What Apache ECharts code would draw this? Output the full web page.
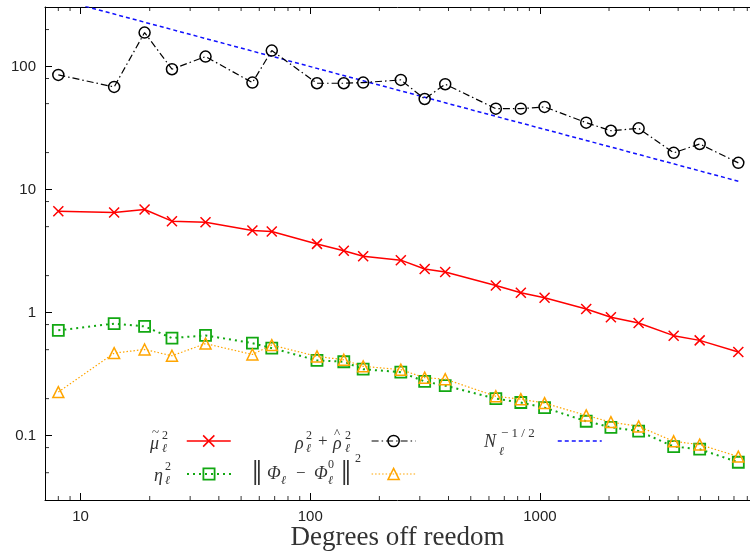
<!DOCTYPE html>
<html>
  <head>
    <meta http-equiv="Content-Type" content="text/html; charset=utf-8" />
    <title>Degrees of freedom</title>
    <script src="https://cdn.jsdelivr.net/npm/echarts@6/dist/echarts.min.js"></script>
    <style>
      html, body { margin: 0; padding: 0; background: #fff; }
      #chart { width: 750px; height: 552px; }
    </style>
  </head>
  <body>
    <div id="chart"></div>
    <script>
      // degrees of freedom (x) and the five curves
      var dofs = [8, 14, 19, 25, 35, 56, 68, 107, 140, 170, 248, 315, 387, 643, 826, 1048, 1591, 2038, 2691, 3824, 4963, 7311];
      var muVals = [6.68, 6.52, 6.90, 5.54, 5.43, 4.65, 4.57, 3.62, 3.18, 2.87, 2.67, 2.26, 2.14, 1.66, 1.45, 1.32, 1.07, 0.916, 0.823, 0.650, 0.595, 0.478];
      var rhoVals = [85.6, 68.3, 189, 95.2, 120.6, 74.1, 135, 73.2, 73.2, 74.1, 77.9, 54.5, 71.9, 45.5, 45.5, 47.0, 35.0, 30.1, 31.5, 19.9, 23.5, 16.5];
      var etaVals = [0.718, 0.814, 0.773, 0.621, 0.653, 0.565, 0.515, 0.409, 0.399, 0.347, 0.328, 0.276, 0.255, 0.200, 0.186, 0.169, 0.131, 0.117, 0.109, 0.0816, 0.0776, 0.0608];
      var phiVals = [0.226, 0.469, 0.502, 0.446, 0.560, 0.457, 0.545, 0.441, 0.414, 0.366, 0.344, 0.296, 0.288, 0.209, 0.198, 0.184, 0.146, 0.129, 0.119, 0.090, 0.0846, 0.0676];
      var refVals = [353.6, 267.3, 229.4, 200, 169, 133.6, 121.3, 96.7, 84.5, 76.7, 63.5, 56.3, 50.8, 39.4, 34.8, 30.9, 25.1, 22.2, 19.3, 16.2, 14.2, 11.7];

      // minor tick positions (gnuplot style)
      var xMinorTicks = [8, 9, 20, 30, 40, 50, 60, 70, 80, 90, 200, 300, 400, 500, 600, 700, 800, 900, 2000, 3000, 4000, 5000, 6000, 7000, 8000];
      var yMinorTicks = [0.05, 0.08, 0.2, 0.5, 0.8, 2, 5, 8, 20, 50, 80, 200];

      var X_MIN = 7, X_MAX = 8220, Y_MIN = 0.03, Y_MAX = 305;

      var SERIF = '"Liberation Serif", "DejaVu Serif", serif';
      var SANS = '"Liberation Sans", Arial, sans-serif';
      var INK = '#333';

      function pairs(xs, ys) {
        var out = [];
        for (var i = 0; i < xs.length; i++) out.push([xs[i], ys[i]]);
        return out;
      }

      function txt(s, x, y, size, italic) {
        return {
          type: 'text', x: x, y: y, silent: true,
          style: {
            text: s, fill: INK,
            font: (italic ? 'italic ' : '') + size + 'px ' + SERIF,
            textVerticalAlign: 'middle', verticalAlign: 'middle'
          }
        };
      }

      // small tick marks drawn as scatter symbols sitting on the frame
      function tickSeries(name, data, size, offset) {
        return {
          name: name, type: 'scatter', silent: true, clip: false, z: 10,
          symbol: 'rect', symbolSize: size, symbolOffset: offset,
          itemStyle: { color: '#000' }, data: data
        };
      }

      function legendBox(name, left, top, lineStyle, itemStyle) {
        return {
          data: [name], left: left, top: top, padding: 0, orient: 'horizontal',
          itemWidth: 44, itemHeight: 14, selectedMode: false,
          formatter: function () { return ''; },
          lineStyle: lineStyle, itemStyle: itemStyle
        };
      }

      function plainNum(v) { return String(v); }

      window.onload = function () {
        var chart = echarts.init(document.getElementById('chart'));

        var axisLine = { show: true, lineStyle: { color: '#000', width: 1 } };
        var majorTick = { show: true, inside: true, length: 7, lineStyle: { color: '#000', width: 1 } };

        var redLine = { color: '#ff0000', width: 1.5, type: 'solid' };
        var blackLine = { color: '#000', width: 1.2, type: [7, 3, 1.5, 3] };
        var blueLine = { color: '#1010ff', width: 1.5, type: [4, 3] };
        var greenLine = { color: '#12a812', width: 2, type: [2, 4] };
        var orangeLine = { color: '#ffa500', width: 1.2, type: [1.5, 2] };

        var redItem = { color: '#ff0000', borderColor: '#ff0000', borderWidth: 1.5 };
        var blackItem = { color: 'rgba(0,0,0,0)', borderColor: '#000', borderWidth: 1.5 };
        var greenItem = { color: 'rgba(0,0,0,0)', borderColor: '#12a812', borderWidth: 1.8 };
        var orangeItem = { color: 'rgba(0,0,0,0)', borderColor: '#ffa500', borderWidth: 1.5 };
        var blueItem = { color: '#1010ff' };
        var noMark = { color: 'rgba(0,0,0,0)', borderColor: 'rgba(0,0,0,0)', borderWidth: 0 };

        var crossPath = 'path://M0,0L10,10M0,10L10,0';

        var bottomTicks = xMinorTicks.map(function (v) { return [v, Y_MIN]; });
        var topTicks = xMinorTicks.map(function (v) { return [v, Y_MAX]; });
        var leftTicks = yMinorTicks.map(function (v) { return [X_MIN, v]; });

        var option = {
          animation: false,
          backgroundColor: '#fff',
          grid: { left: 45, right: 0, top: 7, bottom: 52, containLabel: false, outerBoundsMode: 'none' },
          xAxis: [
            {
              type: 'log', logBase: 10, min: X_MIN, max: X_MAX, position: 'bottom',
              name: 'Degrees off reedom', nameLocation: 'middle', nameGap: 24, nameMoveOverlap: false,
              nameTextStyle: { fontFamily: SERIF, fontSize: 27, color: INK },
              axisLine: axisLine, axisTick: majorTick, splitLine: { show: false },
              axisLabel: { fontFamily: SANS, fontSize: 15, color: '#222', formatter: plainNum,
                           margin: 9, showMinLabel: false, showMaxLabel: false }
            },
            {
              type: 'log', logBase: 10, min: X_MIN, max: X_MAX, position: 'top',
              axisLine: axisLine, axisTick: majorTick, splitLine: { show: false },
              axisLabel: { show: false }
            }
          ],
          yAxis: [
            {
              type: 'log', logBase: 10, min: Y_MIN, max: Y_MAX, position: 'left',
              axisLine: axisLine, axisTick: majorTick, splitLine: { show: false },
              axisLabel: { fontFamily: SANS, fontSize: 15, color: '#222', formatter: plainNum,
                           margin: 9, showMinLabel: false, showMaxLabel: false }
            }
          ],
          legend: [
            legendBox('mu', 186, 434, redLine, redItem),
            legendBox('rho', 371, 434, blackLine, blackItem),
            legendBox('ref', 557, 434, blueLine, noMark),
            legendBox('eta', 186, 467, greenLine, greenItem),
            legendBox('phi', 371, 467, orangeLine, orangeItem)
          ],
          series: [
            { name: 'mu', type: 'line', data: pairs(dofs, muVals), symbol: crossPath, symbolSize: 10,
              lineStyle: redLine, itemStyle: redItem, z: 5 },
            { name: 'rho', type: 'line', data: pairs(dofs, rhoVals), symbol: 'circle', symbolSize: 11,
              lineStyle: blackLine, itemStyle: blackItem, z: 5 },
            { name: 'ref', type: 'line', data: pairs(dofs, refVals), symbol: 'none', clip: true,
              lineStyle: blueLine, itemStyle: blueItem, z: 4 },
            { name: 'eta', type: 'line', data: pairs(dofs, etaVals), symbol: 'rect', symbolSize: 11,
              lineStyle: greenLine, itemStyle: greenItem, z: 5 },
            { name: 'phi', type: 'line', data: pairs(dofs, phiVals), symbol: 'triangle', symbolSize: 11,
              lineStyle: orangeLine, itemStyle: orangeItem, z: 6 },
            tickSeries('tb', bottomTicks, [1, 4], [0, -2]),
            tickSeries('tt', topTicks, [1, 4], [0, 2]),
            tickSeries('tl', leftTicks, [4, 1], [2, 0])
          ],
          graphic: [
            // row 1: mu~^2_l   rho^2_l + rhohat^2_l   N_l^{-1/2}
            txt('\u03bc', 150, 444, 18, true),
            txt('~', 152, 433, 13, false),
            txt('2', 162, 436, 12, false),
            txt('\u2113', 162, 449, 12, true),
            txt('\u03c1', 295, 444, 18, true),
            txt('2', 306, 436, 12, false),
            txt('\u2113', 306, 449, 12, true),
            txt('+', 318, 442, 17, false),
            txt('\u03c1', 333, 444, 18, true),
            txt('^', 334, 434, 13, false),
            txt('2', 345, 436, 12, false),
            txt('\u2113', 345, 449, 12, true),
            txt('N', 484, 442, 18, true),
            txt('\u2212 1 / 2', 501, 434, 13, false),
            txt('\u2113', 499, 452, 12, true),
            // row 2: eta^2_l   ||Phi_l - Phi^0_l||^2
            txt('\u03b7', 154, 476, 18, true),
            txt('2', 165, 467, 12, false),
            txt('\u2113', 165, 481, 12, true),
            txt('\u2016', 252, 476, 36, false),
            txt('\u03a6', 267, 474, 18, true),
            txt('\u2113', 281, 481, 12, true),
            txt('\u2212', 296, 474, 17, false),
            txt('\u03a6', 314, 474, 18, true),
            txt('0', 328, 465, 12, false),
            txt('\u2113', 328, 481, 12, true),
            txt('\u2016', 341, 476, 36, false),
            txt('2', 355, 459, 12, false)
          ]
        };

        chart.setOption(option);
      };
    </script>
  </body>
</html>
